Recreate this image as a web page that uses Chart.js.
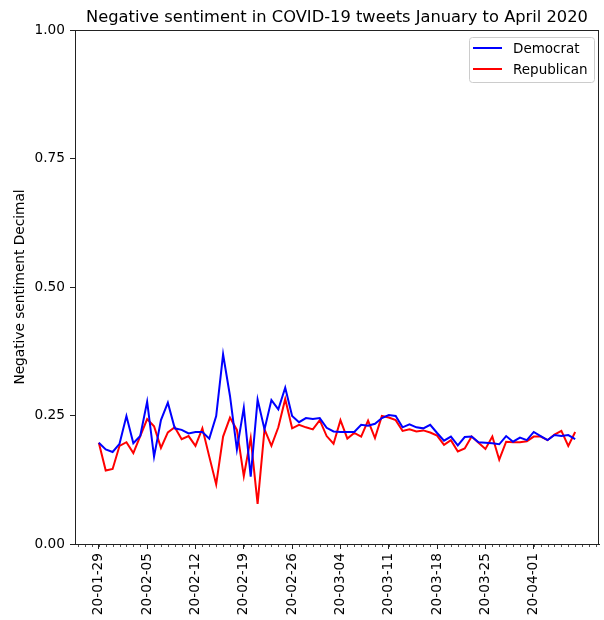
<!DOCTYPE html>
<html>
<head>
<meta charset="utf-8">
<script src="https://cdn.jsdelivr.net/npm/chart.js@4.4.0/dist/chart.umd.min.js"></script>
<style>
  html, body { margin: 0; padding: 0; background: #ffffff; }
  #wrap { width: 604px; height: 620px; position: relative; }
</style>
</head>
<body>
<div id="wrap"><canvas id="chart" width="604" height="620"></canvas></div>
<script>
// Daily dates of the tweet sample
const dates = [
  '2020-01-29','2020-01-30','2020-01-31','2020-02-01','2020-02-02','2020-02-03','2020-02-04',
  '2020-02-05','2020-02-06','2020-02-07','2020-02-08','2020-02-09','2020-02-10','2020-02-11',
  '2020-02-12','2020-02-13','2020-02-14','2020-02-15','2020-02-16','2020-02-17','2020-02-18',
  '2020-02-19','2020-02-20','2020-02-21','2020-02-22','2020-02-23','2020-02-24','2020-02-25',
  '2020-02-26','2020-02-27','2020-02-28','2020-02-29','2020-03-01','2020-03-02','2020-03-03',
  '2020-03-04','2020-03-05','2020-03-06','2020-03-07','2020-03-08','2020-03-09','2020-03-10',
  '2020-03-11','2020-03-12','2020-03-13','2020-03-14','2020-03-15','2020-03-16','2020-03-17',
  '2020-03-18','2020-03-19','2020-03-20','2020-03-21','2020-03-22','2020-03-23','2020-03-24',
  '2020-03-25','2020-03-26','2020-03-27','2020-03-28','2020-03-29','2020-03-30','2020-03-31',
  '2020-04-01','2020-04-02','2020-04-03','2020-04-04','2020-04-05','2020-04-06','2020-04-07'
];

// Share of negative tweets per day
const democrat = [
  0.197, 0.184, 0.179, 0.195, 0.249, 0.196, 0.210,
  0.277, 0.170, 0.241, 0.275, 0.225, 0.222, 0.215,
  0.218, 0.218, 0.205, 0.249, 0.369, 0.288, 0.184,
  0.265, 0.131, 0.281, 0.223, 0.280, 0.262, 0.304,
  0.249, 0.237, 0.245, 0.243, 0.245, 0.226, 0.219,
  0.218, 0.218, 0.218, 0.232, 0.230, 0.234, 0.245,
  0.251, 0.249, 0.227, 0.233, 0.227, 0.225, 0.232,
  0.216, 0.201, 0.209, 0.192, 0.208, 0.209, 0.198,
  0.197, 0.196, 0.194, 0.210, 0.199, 0.207, 0.202,
  0.218, 0.210, 0.202, 0.212, 0.210, 0.212, 0.204
];
const republican = [
  0.197, 0.143, 0.146, 0.191, 0.198, 0.177, 0.210,
  0.243, 0.229, 0.187, 0.217, 0.227, 0.204, 0.210,
  0.191, 0.225, 0.170, 0.116, 0.209, 0.246, 0.222,
  0.132, 0.206, 0.078, 0.223, 0.191, 0.227, 0.282,
  0.225, 0.232, 0.227, 0.223, 0.241, 0.210, 0.195,
  0.241, 0.205, 0.216, 0.209, 0.240, 0.206, 0.249,
  0.246, 0.241, 0.220, 0.223, 0.219, 0.221, 0.217,
  0.211, 0.193, 0.202, 0.180, 0.186, 0.209, 0.197,
  0.185, 0.209, 0.164, 0.199, 0.198, 0.198, 0.200,
  0.209, 0.209, 0.202, 0.213, 0.220, 0.191, 0.218
];

// Weekly labels on the date axis, and the value axis ticks
const tickLabels = ['20-01-29','20-02-05','20-02-12','20-02-19','20-02-26',
                    '20-03-04','20-03-11','20-03-18','20-03-25','20-04-01'];
const yTicks = [0, 0.25, 0.5, 0.75, 1.0];

const FONT = 'DejaVu Sans';
const DAY = 86400000;
const t0 = Date.parse(dates[0]);
const dayOf = s => Math.round((Date.parse(s) - t0) / DAY);
const days = dates.map(dayOf);
const tickDays = tickLabels.map(l => dayOf('20' + l));
const span = days[days.length - 1] - days[0];
const xMin = days[0] - 0.05 * span;
const xMax = days[days.length - 1] + 0.05 * span;

const series = [
  { label: 'Democrat', values: democrat, color: '#0000ff' },
  { label: 'Republican', values: republican, color: '#ff0000' }
];

// Full box around the plot, daily minor ticks, title and legend
const framePlugin = {
  id: 'frame',
  afterDraw(chart) {
    const { ctx, chartArea: a, scales } = chart;
    ctx.save();
    ctx.strokeStyle = '#222';
    ctx.lineWidth = 1;
    ctx.strokeRect(a.left + 0.5, a.top + 0.5, a.right - a.left - 1, a.bottom - a.top);

    // minor ticks, one per day
    const xs = scales.x;
    ctx.lineWidth = 0.8;
    for (let d = Math.ceil(xs.min); d <= Math.floor(xs.max); d++) {
      const px = Math.round(xs.getPixelForValue(d)) + 0.5;
      ctx.beginPath();
      ctx.moveTo(px, a.bottom);
      ctx.lineTo(px, a.bottom + 3);
      ctx.stroke();
    }

    // title centred over the axes
    ctx.fillStyle = '#000';
    ctx.font = '16.3px "' + FONT + '"';
    ctx.textAlign = 'center';
    ctx.textBaseline = 'alphabetic';
    ctx.fillText('Negative sentiment in COVID-19 tweets January to April 2020', (a.left + a.right) / 2, a.top - 8);

    // legend, upper right
    const bw = 125, bh = 45;
    const bx = a.right - 5 - bw, by = a.top + 7;
    ctx.beginPath();
    ctx.roundRect(bx + 0.5, by + 0.5, bw, bh, 3);
    ctx.fillStyle = 'rgba(255,255,255,0.8)';
    ctx.fill();
    ctx.strokeStyle = '#cccccc';
    ctx.lineWidth = 1;
    ctx.stroke();
    ctx.font = '13.5px "' + FONT + '"';
    ctx.textAlign = 'left';
    ctx.textBaseline = 'middle';
    chart.data.datasets.forEach((ds, i) => {
      const ly = by + 11 + i * 21;
      ctx.strokeStyle = ds.borderColor;
      ctx.lineWidth = 2;
      ctx.beginPath();
      ctx.moveTo(bx + 4, ly);
      ctx.lineTo(bx + 33, ly);
      ctx.stroke();
      ctx.fillStyle = '#000';
      ctx.fillText(ds.label, bx + 44, ly + 1);
    });
    ctx.restore();
  }
};

new Chart(document.getElementById('chart'), {
  type: 'line',
  data: {
    datasets: series.map(s => ({
      label: s.label,
      data: days.map((d, i) => ({ x: d, y: s.values[i] })),
      borderColor: s.color,
      backgroundColor: s.color,
      borderWidth: 2,
      pointRadius: 0,
      tension: 0,
      fill: false
    }))
  },
  options: {
    responsive: false,
    animation: false,
    devicePixelRatio: 1,
    layout: { padding: { left: 8, right: 5, top: 30, bottom: 0 } },
    plugins: {
      legend: { display: false },
      tooltip: { enabled: false },
      title: { display: false }
    },
    scales: {
      x: {
        type: 'linear',
        min: xMin,
        max: xMax,
        afterBuildTicks: s => { s.ticks = tickDays.map(v => ({ value: v })); },
        afterFit: s => { s.height = 76; },
        ticks: {
          autoSkip: false,
          maxRotation: 90,
          minRotation: 90,
          padding: 4,
          color: '#000',
          font: { family: FONT, size: 13.7 },
          callback: (v, i) => tickLabels[i]
        },
        grid: { drawOnChartArea: false, tickLength: 5, tickColor: '#222' },
        border: { color: '#222', width: 1 }
      },
      y: {
        min: 0,
        max: 1,
        afterBuildTicks: s => { s.ticks = yTicks.map(v => ({ value: v })); },
        afterFit: s => { s.width = 67; },
        ticks: {
          padding: 5,
          color: '#000',
          font: { family: FONT, size: 13.7 },
          callback: v => v.toFixed(2)
        },
        grid: { drawOnChartArea: false, tickLength: 5, tickColor: '#222' },
        border: { color: '#222', width: 1 },
        title: {
          display: true,
          text: 'Negative sentiment Decimal',
          color: '#000',
          font: { family: FONT, size: 13.7 },
          padding: { top: 4, bottom: 0 }
        }
      }
    }
  },
  plugins: [framePlugin]
});
</script>
</body>
</html>
